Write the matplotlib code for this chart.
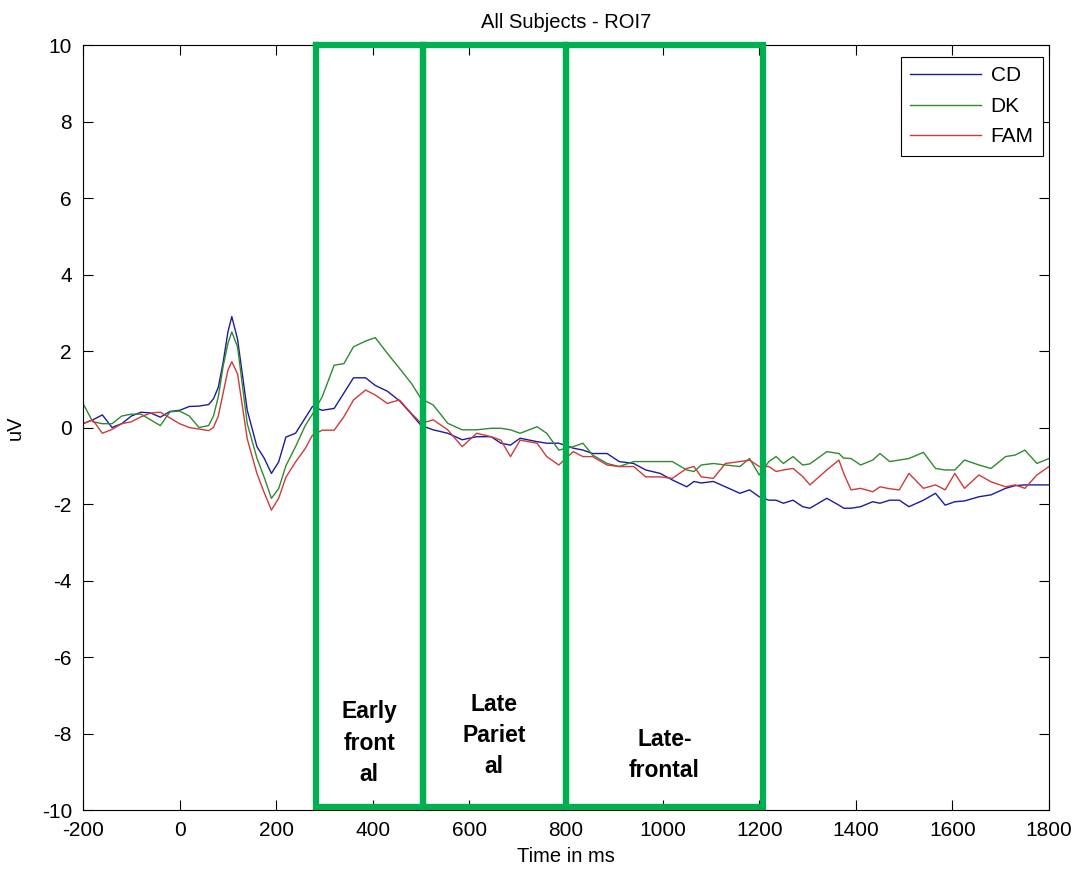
import matplotlib
matplotlib.use("Agg")
import matplotlib.pyplot as plt

plt.rcParams['font.family'] = ['Liberation Sans', 'DejaVu Sans']
plt.rcParams['axes.unicode_minus'] = False

time_ms = [-200, -180, -160, -140, -120, -100, -80, -60, -40, -20,
           0, 20, 40, 60, 70, 80, 90, 100, 108, 120,
           140, 160, 175, 190, 205, 220, 240, 260, 275, 295,
           320, 340, 360, 385, 405, 430, 455, 480, 500, 525,
           555, 585, 615, 645, 665, 685, 705, 740, 760, 785,
           815, 835, 855, 885, 910, 940, 965, 995, 1020, 1050,
           1065, 1080, 1105, 1130, 1160, 1180, 1200, 1220, 1235, 1250,
           1270, 1290, 1305, 1340, 1365, 1375, 1390, 1410, 1435, 1450,
           1470, 1490, 1510, 1540, 1565, 1585, 1605, 1625, 1655, 1680,
           1710, 1730, 1750, 1775, 1800]

cd = [0.10, 0.20, 0.33, 0.00, 0.10, 0.30, 0.40, 0.38, 0.27, 0.42,
      0.45, 0.55, 0.56, 0.60, 0.75, 1.05, 1.70, 2.50, 2.90, 2.30,
      0.45, -0.50, -0.80, -1.20, -0.90, -0.25, -0.15, 0.25, 0.55, 0.45,
      0.50, 0.90, 1.30, 1.30, 1.10, 0.95, 0.70, 0.35, 0.05, -0.06,
      -0.15, -0.32, -0.24, -0.24, -0.41, -0.46, -0.28, -0.37, -0.41, -0.41,
      -0.54, -0.59, -0.68, -0.68, -0.89, -0.94, -1.11, -1.20, -1.37, -1.55,
      -1.41, -1.45, -1.41, -1.55, -1.72, -1.63, -1.81, -1.90, -1.90, -1.98,
      -1.90, -2.07, -2.11, -1.85, -2.03, -2.11, -2.11, -2.07, -1.94, -1.98,
      -1.90, -1.90, -2.07, -1.90, -1.72, -2.03, -1.94, -1.92, -1.81, -1.76,
      -1.59, -1.52, -1.50, -1.50, -1.50]

dk = [0.63, 0.15, 0.10, 0.10, 0.30, 0.35, 0.35, 0.20, 0.05, 0.41,
      0.43, 0.30, 0.00, 0.05, 0.30, 0.80, 1.60, 2.20, 2.50, 2.10,
      0.10, -0.80, -1.30, -1.85, -1.60, -1.00, -0.50, 0.05, 0.35, 0.80,
      1.63, 1.67, 2.11, 2.26, 2.35, 1.94, 1.55, 1.15, 0.75, 0.59,
      0.11, -0.06, -0.06, -0.02, -0.02, -0.06, -0.15, 0.02, -0.15, -0.59,
      -0.50, -0.41, -0.72, -0.94, -1.02, -0.89, -0.89, -0.89, -0.89, -1.11,
      -1.15, -0.98, -0.94, -0.98, -1.02, -0.81, -1.24, -0.89, -0.76, -0.94,
      -0.76, -0.98, -0.95, -0.63, -0.68, -0.80, -0.81, -0.98, -0.85, -0.68,
      -0.89, -0.85, -0.81, -0.65, -1.07, -1.11, -1.11, -0.85, -0.98, -1.07,
      -0.76, -0.72, -0.59, -0.94, -0.81]

fam = [0.10, 0.20, -0.15, -0.05, 0.10, 0.15, 0.28, 0.38, 0.40, 0.25,
       0.10, 0.00, -0.04, -0.08, 0.00, 0.30, 0.90, 1.50, 1.72, 1.40,
       -0.30, -1.20, -1.70, -2.16, -1.85, -1.30, -0.90, -0.55, -0.20, -0.07,
       -0.07, 0.28, 0.72, 0.98, 0.85, 0.63, 0.72, 0.37, 0.11, 0.20,
       -0.06, -0.50, -0.15, -0.24, -0.33, -0.76, -0.33, -0.41, -0.76, -0.98,
       -0.63, -0.76, -0.76, -0.98, -1.02, -1.02, -1.29, -1.29, -1.33, -1.07,
       -1.02, -1.29, -1.33, -0.94, -0.89, -0.85, -1.02, -1.02, -1.15, -1.11,
       -1.07, -1.28, -1.50, -1.11, -0.85, -1.20, -1.63, -1.59, -1.68, -1.55,
       -1.60, -1.63, -1.20, -1.59, -1.50, -1.63, -1.20, -1.59, -1.24, -1.42,
       -1.55, -1.50, -1.59, -1.24, -1.02]

series_names = ['CD', 'DK', 'FAM']
series_colors = ['#1c1c9c', '#2e8b2e', '#d03a3a']

region_edges = [282, 503, 800, 1208]
region_labels = ['Early\nfront\nal', 'Late\nPariet\nal', 'Late-\nfrontal']
region_label_y = [-8.25, -8.05, -8.55]

xticks = list(range(-200, 1801, 200))
yticks = list(range(-10, 11, 2))

fig = plt.figure(figsize=(10.8, 8.74), dpi=100)
ax = fig.add_axes([0.0769, 0.0732, 0.8944, 0.8753])

for vals, name, col in zip([cd, dk, fam], series_names, series_colors):
    ax.plot(time_ms, vals, color=col, lw=1.0, label=name)

ax.set_xlim(-200, 1800)
ax.set_ylim(-10, 10)
ax.set_xticks(xticks)
ax.set_yticks(yticks)
ax.tick_params(direction='in', length=7, width=0.8, top=True, right=True,
               labelsize=15, pad=8)
for sp in ax.spines.values():
    sp.set_linewidth(0.8)

ax.set_title('All Subjects - ROI7', fontsize=14.5, pad=12)
ax.set_xlabel('Time in ms', fontsize=14.5, labelpad=5)
ax.set_ylabel('uV', fontsize=14.5, labelpad=12)

leg = ax.legend(loc='upper right', fontsize=15, frameon=True, fancybox=False,
                edgecolor='black', framealpha=1, borderpad=0.45,
                handlelength=3.4, handletextpad=0.45, labelspacing=0.55,
                borderaxespad=0.0, bbox_to_anchor=(0.9938, 0.9843))
leg.get_frame().set_linewidth(0.8)

green = '#00b050'
for i in range(len(region_edges) - 1):
    x0, x1 = region_edges[i], region_edges[i + 1]
    ax.plot([x0, x1, x1, x0, x0], [10, 10, -9.93, -9.93, 10],
            color=green, lw=4.5, clip_on=False, solid_joinstyle='miter',
            zorder=5)
    ax.text((x0 + x1) / 2, region_label_y[i], region_labels[i],
            ha='center', va='center', fontsize=16.5, fontweight='bold',
            linespacing=1.45, zorder=6)

fig.savefig('out.png', dpi=100)
